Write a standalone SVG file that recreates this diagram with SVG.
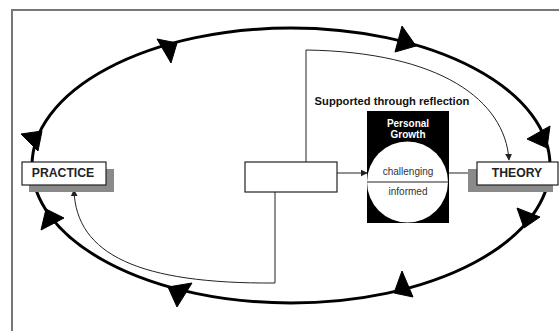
<svg xmlns="http://www.w3.org/2000/svg" width="559" height="331" viewBox="0 0 559 331">
<defs>
<style>
.lbl{font-family:"Liberation Sans",Arial,sans-serif;font-weight:bold;font-size:12.2px;fill:#222;text-anchor:middle}
.sm{font-family:"Liberation Sans",Arial,sans-serif;font-size:10px;fill:#333;text-anchor:middle}
.wb{font-family:"Liberation Sans",Arial,sans-serif;font-weight:bold;font-size:10px;fill:#fff;text-anchor:middle}
.box{fill:#fff;stroke:#222;stroke-width:1.2}
.shadow{fill:#8a8a8a}
.thin{fill:none;stroke:#222;stroke-width:1}
.head{fill:#000;stroke:#000;stroke-width:1;stroke-linejoin:round}
</style>
<marker id="ah" viewBox="0 0 10 10" refX="9" refY="5" markerWidth="7" markerHeight="7" markerUnits="userSpaceOnUse" orient="auto">
<path d="M0,0 L10,5 L0,10 z" fill="#222"/>
</marker>
</defs>
<rect x="0" y="0" width="559" height="331" fill="#fff"/>
<rect x="12" y="10" width="620" height="400" fill="none" stroke="#777" stroke-width="2"/>

<g id="cycle">
<ellipse cx="291" cy="165.5" rx="259" ry="137.5" fill="none" stroke="#000" stroke-width="3"/>
<polygon class="head" points="157,39 177,43 171,63"/>
<polygon class="head" points="402,26 395,52 416,46"/>
<polygon class="head" points="527,139 550,126 547,148"/>
<polygon class="head" points="21,134 42,131 38,151"/>
<polygon class="head" points="41,230 46,209 64,218"/>
<polygon class="head" points="517,208 540,217 524,228"/>
<polygon class="head" points="168,287 192,283 177,307"/>
<polygon class="head" points="402,271 394,293 413,297"/>
</g>

<g id="connectors">
<path class="thin" d="M306,162 L306,50 C440,52 505,100 509,160" marker-end="url(#ah)"/>
<path class="thin" d="M275,192 L275,283 C140,284 76,255 74,190" marker-end="url(#ah)"/>
<path class="thin" d="M337,173 L367,173" marker-end="url(#ah)"/>
<path class="thin" d="M449,173 L478,173" marker-end="url(#ah)"/>
</g>

<g id="practice">
<rect class="shadow" x="29" y="169" width="85" height="23"/>
<rect class="box" x="22" y="162" width="84" height="23"/>
<text class="lbl" x="63" y="177">PRACTICE</text>
</g>

<g id="theory">
<rect class="shadow" x="468" y="169" width="85" height="23"/>
<rect class="box" x="477" y="162" width="81" height="23"/>
<text class="lbl" x="517" y="177">THEORY</text>
</g>

<g id="center">
<rect class="box" x="245" y="162" width="92" height="30"/>
</g>

<g id="reflection">
<text x="392" y="105" style="font-family:'Liberation Sans',Arial,sans-serif;font-weight:bold;font-size:11.2px;fill:#111;text-anchor:middle">Supported through reflection</text>
</g>

<g id="growth">
<rect x="367" y="111" width="82" height="112" fill="#000"/>
<circle cx="407.5" cy="182" r="40.5" fill="#fff"/>
<line x1="367" y1="182" x2="449" y2="182" stroke="#222" stroke-width="1.2"/>
<text class="wb" x="408" y="126.5">Personal</text>
<text class="wb" x="408" y="138">Growth</text>
<text class="sm" x="408" y="175">challenging</text>
<text class="sm" x="408" y="195">informed</text>
</g>
</svg>
